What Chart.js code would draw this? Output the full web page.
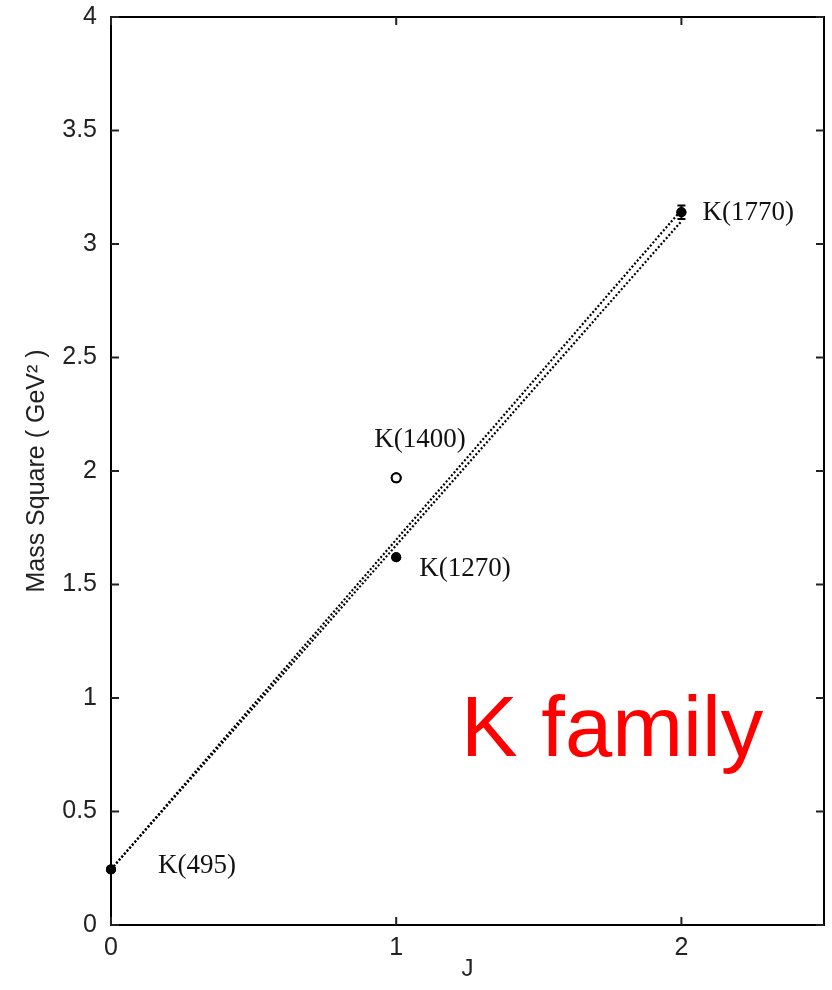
<!DOCTYPE html>
<html>
<head>
<meta charset="utf-8">
<title>K family Regge trajectory</title>
<script src="https://cdn.jsdelivr.net/npm/chart.js@4.4.1/dist/chart.umd.min.js"></script>
<style>
  html, body { margin: 0; padding: 0; background: #ffffff; }
  #wrap { width: 832px; height: 990px; }
</style>
</head>
<body>
<div id="wrap"><canvas id="chart" width="832" height="990"></canvas></div>
<script>
// Kaon states: spin J against mass squared (GeV^2)
const states   = ['K(495)', 'K(1270)', 'K(1400)', 'K(1770)'];
const spinJ    = [0, 1, 1, 2];
const massSq   = [0.245, 1.62, 1.97, 3.14];
const massErr  = [0, 0, 0, 0.03];
const hollow   = [false, false, true, false];

// Two fitted linear trajectories (end points at J = 0 and J = 2)
const trajJ    = [0, 2];
const trajA    = [0.245, 3.15];
const trajB    = [0.245, 3.10];

// Axis ticks
const xTicks   = [0, 1, 2];
const yTicks   = [0, 0.5, 1, 1.5, 2, 2.5, 3, 3.5, 4];

const familyLabel = 'K family';

const pts = (xs, ys) => xs.map((x, i) => ({ x: x, y: ys[i] }));
const solidIdx  = spinJ.map((_, i) => i).filter(i => !hollow[i]);
const hollowIdx = spinJ.map((_, i) => i).filter(i => hollow[i]);

const labelOffsets = {
  'K(495)':  [47, -3],
  'K(1270)': [23, 12],
  'K(1400)': [-22, -38],
  'K(1770)': [21, 1]
};

const framePlugin = {
  id: 'frameAndMarks',
  afterDatasetsDraw(chart) {
    const { ctx, chartArea: a, scales: { x, y } } = chart;
    ctx.save();
    // error bars
    ctx.strokeStyle = '#000';
    ctx.lineWidth = 2;
    spinJ.forEach((j, i) => {
      if (!massErr[i]) return;
      const px = x.getPixelForValue(j);
      const y1 = y.getPixelForValue(massSq[i] - massErr[i]);
      const y2 = y.getPixelForValue(massSq[i] + massErr[i]);
      ctx.beginPath();
      ctx.moveTo(px, y1); ctx.lineTo(px, y2);
      ctx.moveTo(px - 4, y1); ctx.lineTo(px + 4, y1);
      ctx.moveTo(px - 4, y2); ctx.lineTo(px + 4, y2);
      ctx.stroke();
    });
    // state labels
    ctx.fillStyle = '#111';
    ctx.font = '27px "Liberation Serif", "Times New Roman", serif';
    ctx.textAlign = 'left';
    ctx.textBaseline = 'middle';
    states.forEach((s, i) => {
      const off = labelOffsets[s];
      ctx.fillText(s, x.getPixelForValue(spinJ[i]) + off[0], y.getPixelForValue(massSq[i]) + off[1]);
    });
    // family caption
    ctx.fillStyle = '#ff0000';
    ctx.font = '85px "Liberation Sans", Arial, sans-serif';
    ctx.textBaseline = 'alphabetic';
    ctx.fillText(familyLabel, 461, 756);
    // frame
    ctx.strokeStyle = '#000';
    ctx.lineWidth = 2;
    ctx.strokeRect(a.left, a.top, a.right - a.left, a.bottom - a.top);
    // inward ticks on all four sides
    ctx.strokeStyle = '#222';
    ctx.beginPath();
    yTicks.forEach(v => {
      const py = y.getPixelForValue(v);
      ctx.moveTo(a.left, py); ctx.lineTo(a.left + 8, py);
      ctx.moveTo(a.right, py); ctx.lineTo(a.right - 8, py);
    });
    xTicks.forEach(v => {
      const px = x.getPixelForValue(v);
      ctx.moveTo(px, a.bottom); ctx.lineTo(px, a.bottom - 8);
      ctx.moveTo(px, a.top); ctx.lineTo(px, a.top + 8);
    });
    ctx.stroke();
    // markers on top of the frame so points on the J = 0 axis stay whole
    spinJ.forEach((j, i) => {
      const px = x.getPixelForValue(j);
      const py = y.getPixelForValue(massSq[i]);
      ctx.beginPath();
      if (hollow[i]) {
        ctx.arc(px, py, 4.5, 0, Math.PI * 2);
        ctx.fillStyle = '#fff';
        ctx.fill();
        ctx.lineWidth = 2;
        ctx.strokeStyle = '#000';
        ctx.stroke();
      } else {
        ctx.arc(px, py, 5, 0, Math.PI * 2);
        ctx.fillStyle = '#000';
        ctx.fill();
      }
    });
    ctx.restore();
  }
};

new Chart(document.getElementById('chart'), {
  type: 'scatter',
  data: {
    datasets: [
      {
        label: 'trajectory A',
        data: pts(trajJ, trajA),
        showLine: true,
        borderColor: '#000',
        borderWidth: 2.2,
        borderDash: [2, 2],
        pointRadius: 0
      },
      {
        label: 'trajectory B',
        data: pts(trajJ, trajB),
        showLine: true,
        borderColor: '#000',
        borderWidth: 2.2,
        borderDash: [2, 2],
        pointRadius: 0
      },
      {
        label: 'states',
        data: solidIdx.map(i => ({ x: spinJ[i], y: massSq[i] })),
        clip: false,
        pointRadius: 5,
        pointBackgroundColor: '#000',
        pointBorderColor: '#000',
        pointBorderWidth: 0
      },
      {
        label: 'states (open)',
        data: hollowIdx.map(i => ({ x: spinJ[i], y: massSq[i] })),
        clip: false,
        pointRadius: 4.5,
        pointBackgroundColor: '#fff',
        pointBorderColor: '#000',
        pointBorderWidth: 2
      }
    ]
  },
  options: {
    responsive: false,
    animation: false,
    layout: { padding: { top: 17, right: 8, left: 0, bottom: 0 } },
    plugins: { legend: { display: false }, tooltip: { enabled: false } },
    scales: {
      x: {
        type: 'linear',
        min: 0,
        max: 2.5,
        afterBuildTicks: s => { s.ticks = xTicks.map(v => ({ value: v })); },
        afterFit: s => { s.height = 65; s.paddingLeft = 0; s.paddingRight = 0; },
        grid: { display: false, drawTicks: false },
        border: { display: false },
        ticks: {
          padding: 8,
          color: '#222',
          font: { family: '"Liberation Sans", Arial, sans-serif', size: 25 },
          maxRotation: 0,
          callback: v => String(v)
        },
        title: {
          display: true,
          text: 'J',
          color: '#222',
          padding: { top: 0, bottom: 6 },
          font: { family: '"Liberation Sans", Arial, sans-serif', size: 24 }
        }
      },
      y: {
        type: 'linear',
        min: 0,
        max: 4,
        afterBuildTicks: s => { s.ticks = yTicks.map(v => ({ value: v })); },
        afterFit: s => { s.width = 111; s.paddingTop = 0; s.paddingBottom = 0; },
        grid: { display: false, drawTicks: false },
        border: { display: false },
        ticks: {
          padding: 14,
          color: '#222',
          font: { family: '"Liberation Sans", Arial, sans-serif', size: 25 },
          callback: v => String(v)
        },
        title: {
          display: true,
          text: 'Mass Square ( GeV² )',
          color: '#222',
          padding: { top: 22, bottom: 0 },
          font: { family: '"Liberation Sans", Arial, sans-serif', size: 25 }
        }
      }
    }
  },
  plugins: [framePlugin]
});
</script>
</body>
</html>
